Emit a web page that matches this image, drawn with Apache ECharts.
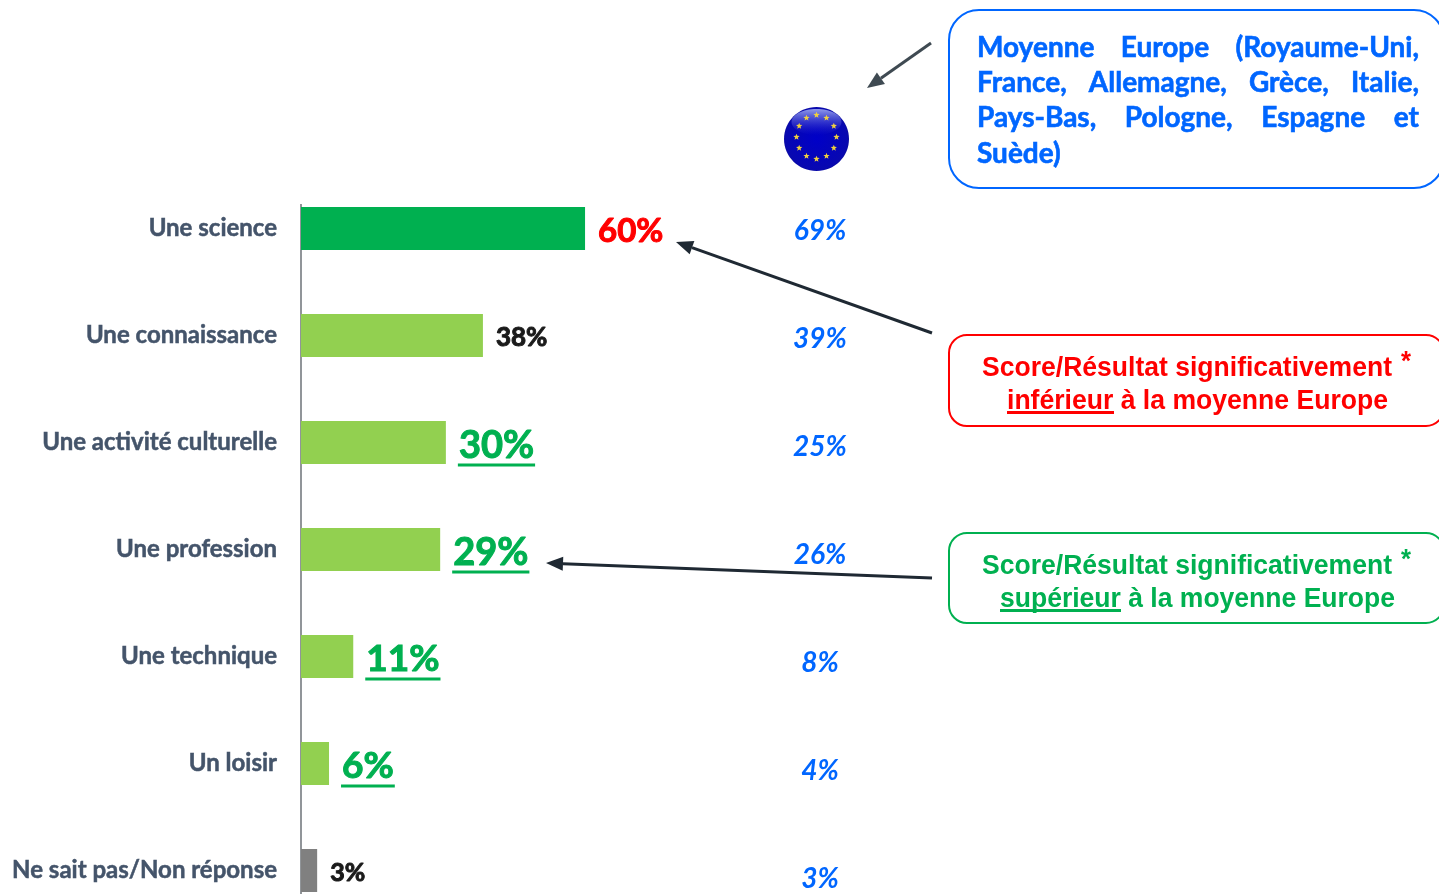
<!DOCTYPE html>
<html>
<head>
<meta charset="utf-8">
<style>html,body{margin:0;padding:0;background:#fff;width:1439px;height:894px;overflow:hidden}#chart{width:1439px;height:960px}</style>
<script src="https://cdn.jsdelivr.net/npm/echarts@6/dist/echarts.min.js"></script>
</head>
<body>
<div id="chart"></div>
<script>
const categories = ['Une science', 'Une connaissance', 'Une activité culturelle', 'Une profession', 'Une technique', 'Un loisir', 'Ne sait pas/Non réponse']
// printed scores, and the slightly finer lengths the bars really have
const scores = [60, 38, 30, 29, 11, 6, 3]
const barValues = [59.8, 38.3, 30.5, 29.3, 11, 5.9, 3.4]
const europe = [69, 39, 25, 26, 8, 4, 3]
const barColors = ['#00b050', '#92d050', '#92d050', '#92d050', '#92d050', '#92d050', '#808080']
const labelColors = ['#ff0000', '#1a1a1a', '#00b050', '#00b050', '#00b050', '#00b050', '#1a1a1a']
const labelSizes = [33, 26, 38, 38, 37, 37, 25]
const labelUnderlined = [false, false, true, true, true, true, false]
const europeLines = [
  ['Moyenne', 'Europe', '(Royaume-Uni,'],
  ['France,', 'Allemagne,', 'Grèce,', 'Italie,'],
  ['Pays-Bas,', 'Pologne,', 'Espagne', 'et'],
  ['Suède)']
]

const BOLD = 'Lato'
const ctx = document.createElement('canvas').getContext('2d')
function textWidth(str, font) {
  ctx.font = font
  return ctx.measureText(str).width
}

// score labels next to the bars, underlined ones need a rect so custom series
function renderLabel(params, api) {
  const i = params.dataIndex
  const p = api.coord([api.value(0), api.value(1)])
  const font = 'bold ' + labelSizes[i] + 'px ' + BOLD
  const str = api.value(2) + '%'
  const x = p[0] + 13
  const dy = labelSizes[i] > 30 ? 3 : 2
  const children = [{
    type: 'text',
    style: {
      x: x, y: p[1] + dy, text: str, font: font, fill: labelColors[i], verticalAlign: 'middle',
      stroke: labelColors[i], lineWidth: 1
    }
  }]
  if (labelUnderlined[i]) {
    children.push({
      type: 'rect',
      shape: { x: x - 1, y: p[1] + 21, width: textWidth(str, font) + 2, height: 3 },
      style: { fill: labelColors[i] }
    })
  }
  return { type: 'group', children: children }
}

function arrow(x1, y1, x2, y2, color) {
  const a = Math.atan2(y2 - y1, x2 - x1)
  const len = 17
  const w = 7
  const bx = x2 - Math.cos(a) * len
  const by = y2 - Math.sin(a) * len
  return [
    { type: 'line', shape: { x1: x1, y1: y1, x2: bx, y2: by }, style: { stroke: color, lineWidth: 3 } },
    {
      type: 'polygon',
      shape: { points: [[x2, y2], [bx - Math.sin(a) * w, by + Math.cos(a) * w], [bx + Math.sin(a) * w, by - Math.cos(a) * w]] },
      style: { fill: color }
    }
  ]
}

function box(y, height, r, color) {
  return {
    type: 'rect',
    shape: { x: 949, y: y, width: 495, height: height, r: r },
    style: { fill: '#fff', stroke: color, lineWidth: 2 }
  }
}

// squeezed arial text, original is narrower than Liberation Sans
function scoreText(str, xc, y, width, color) {
  const font = 'bold 27px "Liberation Sans"'
  const sx = width / textWidth(str, font)
  return {
    type: 'text',
    x: xc,
    y: y,
    scaleX: sx,
    style: { text: str, font: font, fill: color, align: 'center', verticalAlign: 'middle' }
  }
}

function underline(x, width, y, color) {
  return { type: 'rect', shape: { x: x, y: y, width: width, height: 3 }, style: { fill: color } }
}

function europeBoxText() {
  const font = 'bold 28px ' + BOLD
  const out = []
  const left = 977
  const right = 1419
  europeLines.forEach((words, l) => {
    const total = words.reduce((s, w) => s + textWidth(w, font), 0)
    const gap = words.length > 1 ? (right - left - total) / (words.length - 1) : 0
    let x = left
    words.forEach(w => {
      out.push({
        type: 'text',
        style: {
          x: x, y: 48 + l * 35.2, text: w, font: font, fill: '#0066ff', verticalAlign: 'middle',
          stroke: '#0066ff', lineWidth: 0.6
        }
      })
      x += textWidth(w, font) + gap
    })
  })
  return out
}

function flag() {
  const cx = 816.5
  const cy = 139
  const out = [
    {
      type: 'ellipse',
      shape: { cx: cx, cy: cy, rx: 32.5, ry: 32 },
      style: {
        fill: {
          type: 'radial', x: 0.5, y: 0.5, r: 0.6,
          colorStops: [{ offset: 0, color: '#0000c8' }, { offset: 0.8, color: '#0808b0' }, { offset: 1, color: '#101070' }]
        }
      }
    },
    {
      type: 'ellipse',
      shape: { cx: cx, cy: cy - 17, rx: 25, ry: 13 },
      style: {
        fill: {
          type: 'linear', x: 0, y: 0, x2: 0, y2: 1,
          colorStops: [{ offset: 0, color: 'rgba(190,205,255,0.75)' }, { offset: 1, color: 'rgba(60,60,220,0)' }]
        }
      }
    }
  ]
  for (let k = 0; k < 12; k++) {
    const a = k * Math.PI / 6
    const sx = cx + Math.sin(a) * 20
    const sy = cy - 2 - Math.cos(a) * 22
    const pts = []
    for (let j = 0; j < 10; j++) {
      const r = j % 2 ? 1.4 : 3.3
      const b = j * Math.PI / 5
      pts.push([sx + Math.sin(b) * r, sy - Math.cos(b) * r])
    }
    out.push({ type: 'polygon', shape: { points: pts }, style: { fill: '#f0d040' } })
  }
  return out
}

const chart = echarts.init(document.getElementById('chart'), null, { renderer: 'canvas' })
chart.setOption({
  animation: false,
  backgroundColor: '#fff',
  grid: [
    { left: 301, width: 475, top: 175, height: 749 },
    { left: 820, width: 1, top: 176.5, height: 756 }
  ],
  xAxis: [
    { type: 'value', min: 0, max: 100, show: false, gridIndex: 0 },
    { type: 'value', min: 0, max: 1, show: false, gridIndex: 1 }
  ],
  yAxis: [
    {
      type: 'category',
      inverse: true,
      gridIndex: 0,
      data: categories,
      axisLine: { show: false },
      axisTick: { show: false },
      axisLabel: {
        margin: 24, padding: [2, 0, 0, 0], color: '#44546a', fontFamily: BOLD, fontWeight: 'bold', fontSize: 24,
        textBorderColor: '#44546a', textBorderWidth: 0.5
      }
    },
    {
      type: 'category',
      inverse: true,
      gridIndex: 1,
      data: europe.map(v => v + '%'),
      axisLine: { show: false },
      axisTick: { show: false },
      axisLabel: {
        margin: 0, align: 'center', color: '#0066ff', fontFamily: BOLD, fontWeight: 'bold', fontStyle: 'italic', fontSize: 28
      }
    }
  ],
  series: [
    {
      type: 'bar',
      barWidth: 43,
      data: barValues.map((v, i) => ({ value: v, itemStyle: { color: barColors[i] } }))
    },
    {
      type: 'custom',
      renderItem: renderLabel,
      clip: false,
      encode: { x: 0, y: 1 },
      data: barValues.map((v, i) => [v, i, scores[i]])
    }
  ],
  graphic: {
    elements: [
      { type: 'line', shape: { x1: 301, y1: 204, x2: 301, y2: 894 }, style: { stroke: '#919599', lineWidth: 2 } },
      ...flag(),
      ...arrow(931, 43, 867, 88, '#3f4a52'),
      ...arrow(932, 333, 676, 242, '#1f2933'),
      ...arrow(932, 578, 546, 563, '#1f2933'),
      box(10, 178, 30, '#0066ff'),
      box(335, 91, 18, '#ff0000'),
      box(533, 90, 18, '#00b050'),
      ...europeBoxText(),
      scoreText('Score/Résultat significativement', 1187, 369, 410, '#ff0000'),
      scoreText('*', 1406, 363, 10, '#ff0000'),
      scoreText('inférieur à la moyenne Europe', 1197.5, 402, 381, '#ff0000'),
      underline(1007, 107, 411, '#ff0000'),
      scoreText('Score/Résultat significativement', 1187, 567, 410, '#00b050'),
      scoreText('*', 1406, 561, 10, '#00b050'),
      scoreText('supérieur à la moyenne Europe', 1197.5, 600, 395, '#00b050'),
      underline(1000, 121, 609, '#00b050')
    ]
  }
})
</script>
</body>
</html>
